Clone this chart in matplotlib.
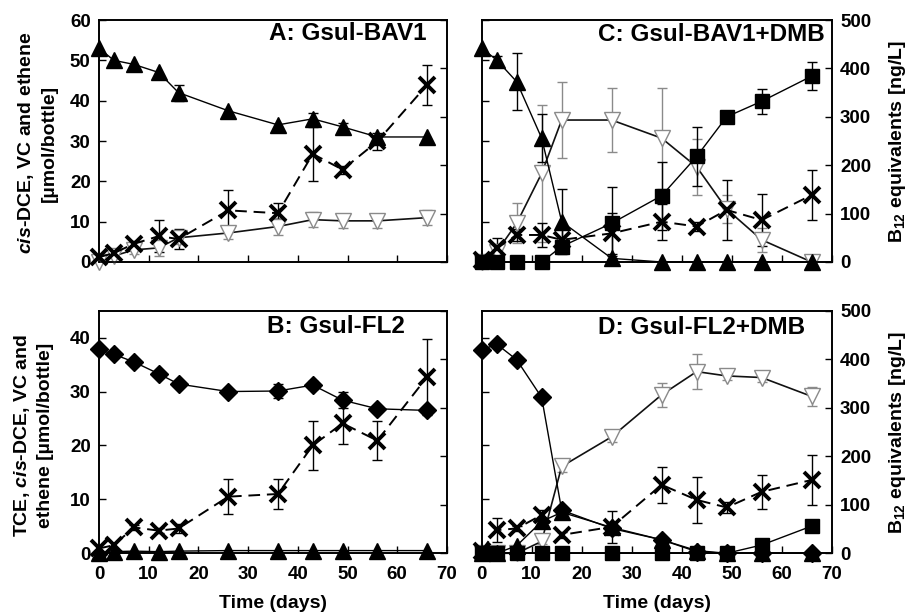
import numpy as np
import matplotlib
matplotlib.use("Agg")
import matplotlib.pyplot as plt

plt.rcParams['font.family'] = ['Liberation Sans', 'DejaVu Sans']
plt.rcParams['font.weight'] = 'bold'
plt.rcParams['mathtext.fontset'] = 'custom'
plt.rcParams['mathtext.it'] = 'Liberation Sans:italic:bold'
plt.rcParams['mathtext.rm'] = 'Liberation Sans'

# ---------- data ----------
days = [0, 3, 7, 12, 16, 26, 36, 43, 49, 56, 66]

# A: Gsul-BAV1
a_dce = [53, 50, 49, 47, 42, 37.5, 34, 35.5, 33.5, 31, 31]
a_dce_err = [0, 0, 0, 0, 2, 0, 0, 1.5, 1, 0, 0]
a_vc = [0, 1.5, 3, 3.5, 6, 7.2, 8.8, 10.5, 10.2, 10.2, 11]
a_vc_err = [0, 0, 1, 2, 1.5, 1.5, 2, 1.8, 1.8, 1.8, 1.8]
a_eth = [1.2, 2.2, 4.5, 6.4, 5.7, 12.8, 12.1, 26.8, 22.9, 29.9, 43.9]
a_eth_err = [0, 0, 0.8, 3.9, 2.6, 5.1, 2.5, 6.7, 1, 2.2, 5]

# B: Gsul-FL2
b_tce = [37.8, 36.9, 35.5, 33.3, 31.4, 30.0, 30.1, 31.2, 28.4, 26.8, 26.5]
b_tce_err = [0, 0, 0, 0, 0, 0, 1.3, 0.8, 1.5, 0, 0]
b_dce = [0, 0.3, 0.4, 0.3, 0.4, 0.5, 0.5, 0.5, 0.5, 0.5, 0.5]
b_eth = [0.9, 1.5, 4.8, 4.2, 4.6, 10.5, 11.0, 20.0, 24.1, 20.9, 32.7]
b_eth_err = [0, 0, 0.5, 0.5, 0.8, 3.3, 2.7, 4.5, 3.8, 3.6, 7]

# C: Gsul-BAV1+DMB
c_dce = [53, 50.1, 44.7, 30.7, 10.0, 0.9, 0, 0, 0, 0, 0]
c_dce_err = [0, 1, 7, 6, 8, 0.5, 0, 0, 0, 0, 0]
c_vc = [0, 2.5, 9.6, 22.0, 35.2, 35.2, 30.7, 23.6, 13.1, 5.5, 0]
c_vc_err = [0, 2, 5, 17, 9.5, 8, 12.5, 7, 3.5, 3, 0]
c_eth = [0.5, 3.4, 6.7, 6.7, 5.5, 7.1, 10.0, 8.8, 12.9, 10.4, 16.6]
c_eth_err = [0, 2.5, 1.5, 3, 3, 5, 4.5, 1, 7.5, 6.5, 6.2]
c_b12 = [0, 0, 0, 0, 32, 80, 137, 218, 300, 332, 384]
c_b12_err = [0, 0, 0, 0, 10, 75, 70, 60, 0, 26, 29]

# D: Gsul-FL2+DMB
d_tce = [37.7, 38.8, 35.9, 28.9, 8.0, 4.6, 2.5, 0.3, 0, 0, 0]
d_dce = [0, 0, 1.4, 5.9, 7.6, 4.8, 2.5, 0.5, 0, 0, 0]
d_vc = [0, 0, 0, 2.2, 16.1, 21.6, 29.4, 33.7, 32.9, 32.6, 29.1]
d_vc_err = [0, 0, 0, 0.5, 1, 1, 2.2, 3.2, 0.8, 0.8, 1.7]
d_eth = [0.5, 4.3, 4.6, 7.1, 3.4, 4.9, 12.7, 9.9, 8.5, 11.4, 13.6]
d_eth_err = [0, 2.2, 0.5, 1, 0.5, 3, 3.3, 4.2, 1, 3.2, 4.6]
d_b12 = [0, 0, 0, 0, 0, 0, 0, 0, 0, 17, 56]

# ---------- styles ----------
tri = dict(marker='^', ms=11, color='black', lw=1)
vcs = dict(marker='v', ms=11, color='#111111', lw=1.2, mfc='white', mec='#8a8a8a', mew=1)
eth = dict(marker='x', ms=11, mew=2.8, color='black', lw=1.4, ls=(0, (6, 3.5)))
sqr = dict(marker='s', ms=10, color='black', lw=1)
dia = dict(marker='D', ms=9, color='black', lw=1)
GREY = '#8a8a8a'


def series(ax, y, err, style, ecol='black'):
    # error bars only where the error is non-zero, then the line + markers
    if err is not None:
        x = np.array(days)
        e = np.array(err, dtype=float)
        m = e > 0
        ax.errorbar(x[m], np.array(y)[m], yerr=e[m], fmt='none', ecolor=ecol,
                    elinewidth=1, capsize=3.5, capthick=1, zorder=2, clip_on=False)
    ax.plot(days, y, clip_on=False, zorder=3, **style)


fig = plt.figure(figsize=(9.09, 6.14), dpi=100)
pos = {'A': [0.1089, 0.5733, 0.3828, 0.3941],
       'B': [0.1089, 0.0989, 0.3828, 0.3951],
       'C': [0.5299, 0.5733, 0.3850, 0.3941],
       'D': [0.5299, 0.0989, 0.3850, 0.3951]}
axes = {}
for key, p in pos.items():
    ax = fig.add_axes(p)
    ax2 = ax.twinx()
    left = key in 'AB'
    bottom = key in 'BD'
    ymax = 60 if key in 'AC' else 45
    ax.set_xlim(0, 70)
    ax.set_ylim(0, ymax)
    ax.set_xticks(range(0, 71, 10))
    ax.set_yticks(range(0, ymax + 1, 10))
    ax.tick_params(axis='both', direction='in', length=5, width=1, labelsize=13.5,
                   labelleft=left, labelbottom=bottom)
    ax.tick_params(axis='y', pad=6)
    ax.tick_params(axis='x', pad=9)
    ax2.set_ylim(0, 500)
    ax2.set_yticks(range(0, 501, 100))
    ax2.tick_params(axis='y', direction='in', length=5, width=1, labelsize=13.5,
                    labelright=not left, pad=6)
    for a in (ax, ax2):
        for s in a.spines.values():
            s.set_linewidth(1.2)
    axes[key] = (ax, ax2)

# A
ax, ax2 = axes['A']
series(ax, a_vc, a_vc_err, vcs, GREY)
series(ax, a_dce, a_dce_err, tri)
series(ax, a_eth, a_eth_err, eth)
ax.text(0.942, 0.946, 'A: Gsul-BAV1', transform=ax.transAxes, ha='right', va='center', fontsize=17.5)

# B
ax, ax2 = axes['B']
series(ax, b_dce, None, tri)
series(ax, b_tce, b_tce_err, dia)
series(ax, b_eth, b_eth_err, eth)
ax.text(0.88, 0.934, 'B: Gsul-FL2', transform=ax.transAxes, ha='right', va='center', fontsize=17.5)

# C  (B12 squares on the right-hand axis)
ax, ax2 = axes['C']
series(ax, c_vc, c_vc_err, vcs, GREY)
series(ax, c_dce, c_dce_err, tri)
series(ax, c_eth, c_eth_err, eth)
series(ax2, c_b12, c_b12_err, sqr)
ax.text(0.981, 0.94, 'C: Gsul-BAV1+DMB', transform=ax.transAxes, ha='right', va='center', fontsize=17.5)

# D
ax, ax2 = axes['D']
series(ax, d_vc, d_vc_err, vcs, GREY)
series(ax, d_dce, None, tri)
series(ax, d_tce, None, dia)
series(ax, d_eth, d_eth_err, eth)
series(ax2, d_b12, None, sqr)
ax.text(0.924, 0.929, 'D: Gsul-FL2+DMB', transform=ax.transAxes, ha='right', va='center', fontsize=17.5)

# axis labels
fig.text(37 / 909, 1 - 143 / 614, '$\\it{cis}$-DCE, VC and ethene\n[µmol/bottle]',
         rotation=90, ha='center', va='center', fontsize=14, linespacing=1.35)
fig.text(33 / 909, 1 - 435 / 614, 'TCE, $\\it{cis}$-DCE, VC and\nethene [µmol/bottle]',
         rotation=90, ha='center', va='center', fontsize=14, linespacing=1.35)
for yc in (141, 432):
    fig.text(897 / 909, 1 - yc / 614, 'B$_{\\mathrm{12}}$ equivalents [ng/L]',
             rotation=90, ha='center', va='center', fontsize=14)
fig.text(273 / 909, 1 - 603 / 614, 'Time (days)', ha='center', va='center', fontsize=14)
fig.text(657 / 909, 1 - 603 / 614, 'Time (days)', ha='center', va='center', fontsize=14)

fig.savefig('out.png', dpi=100)
